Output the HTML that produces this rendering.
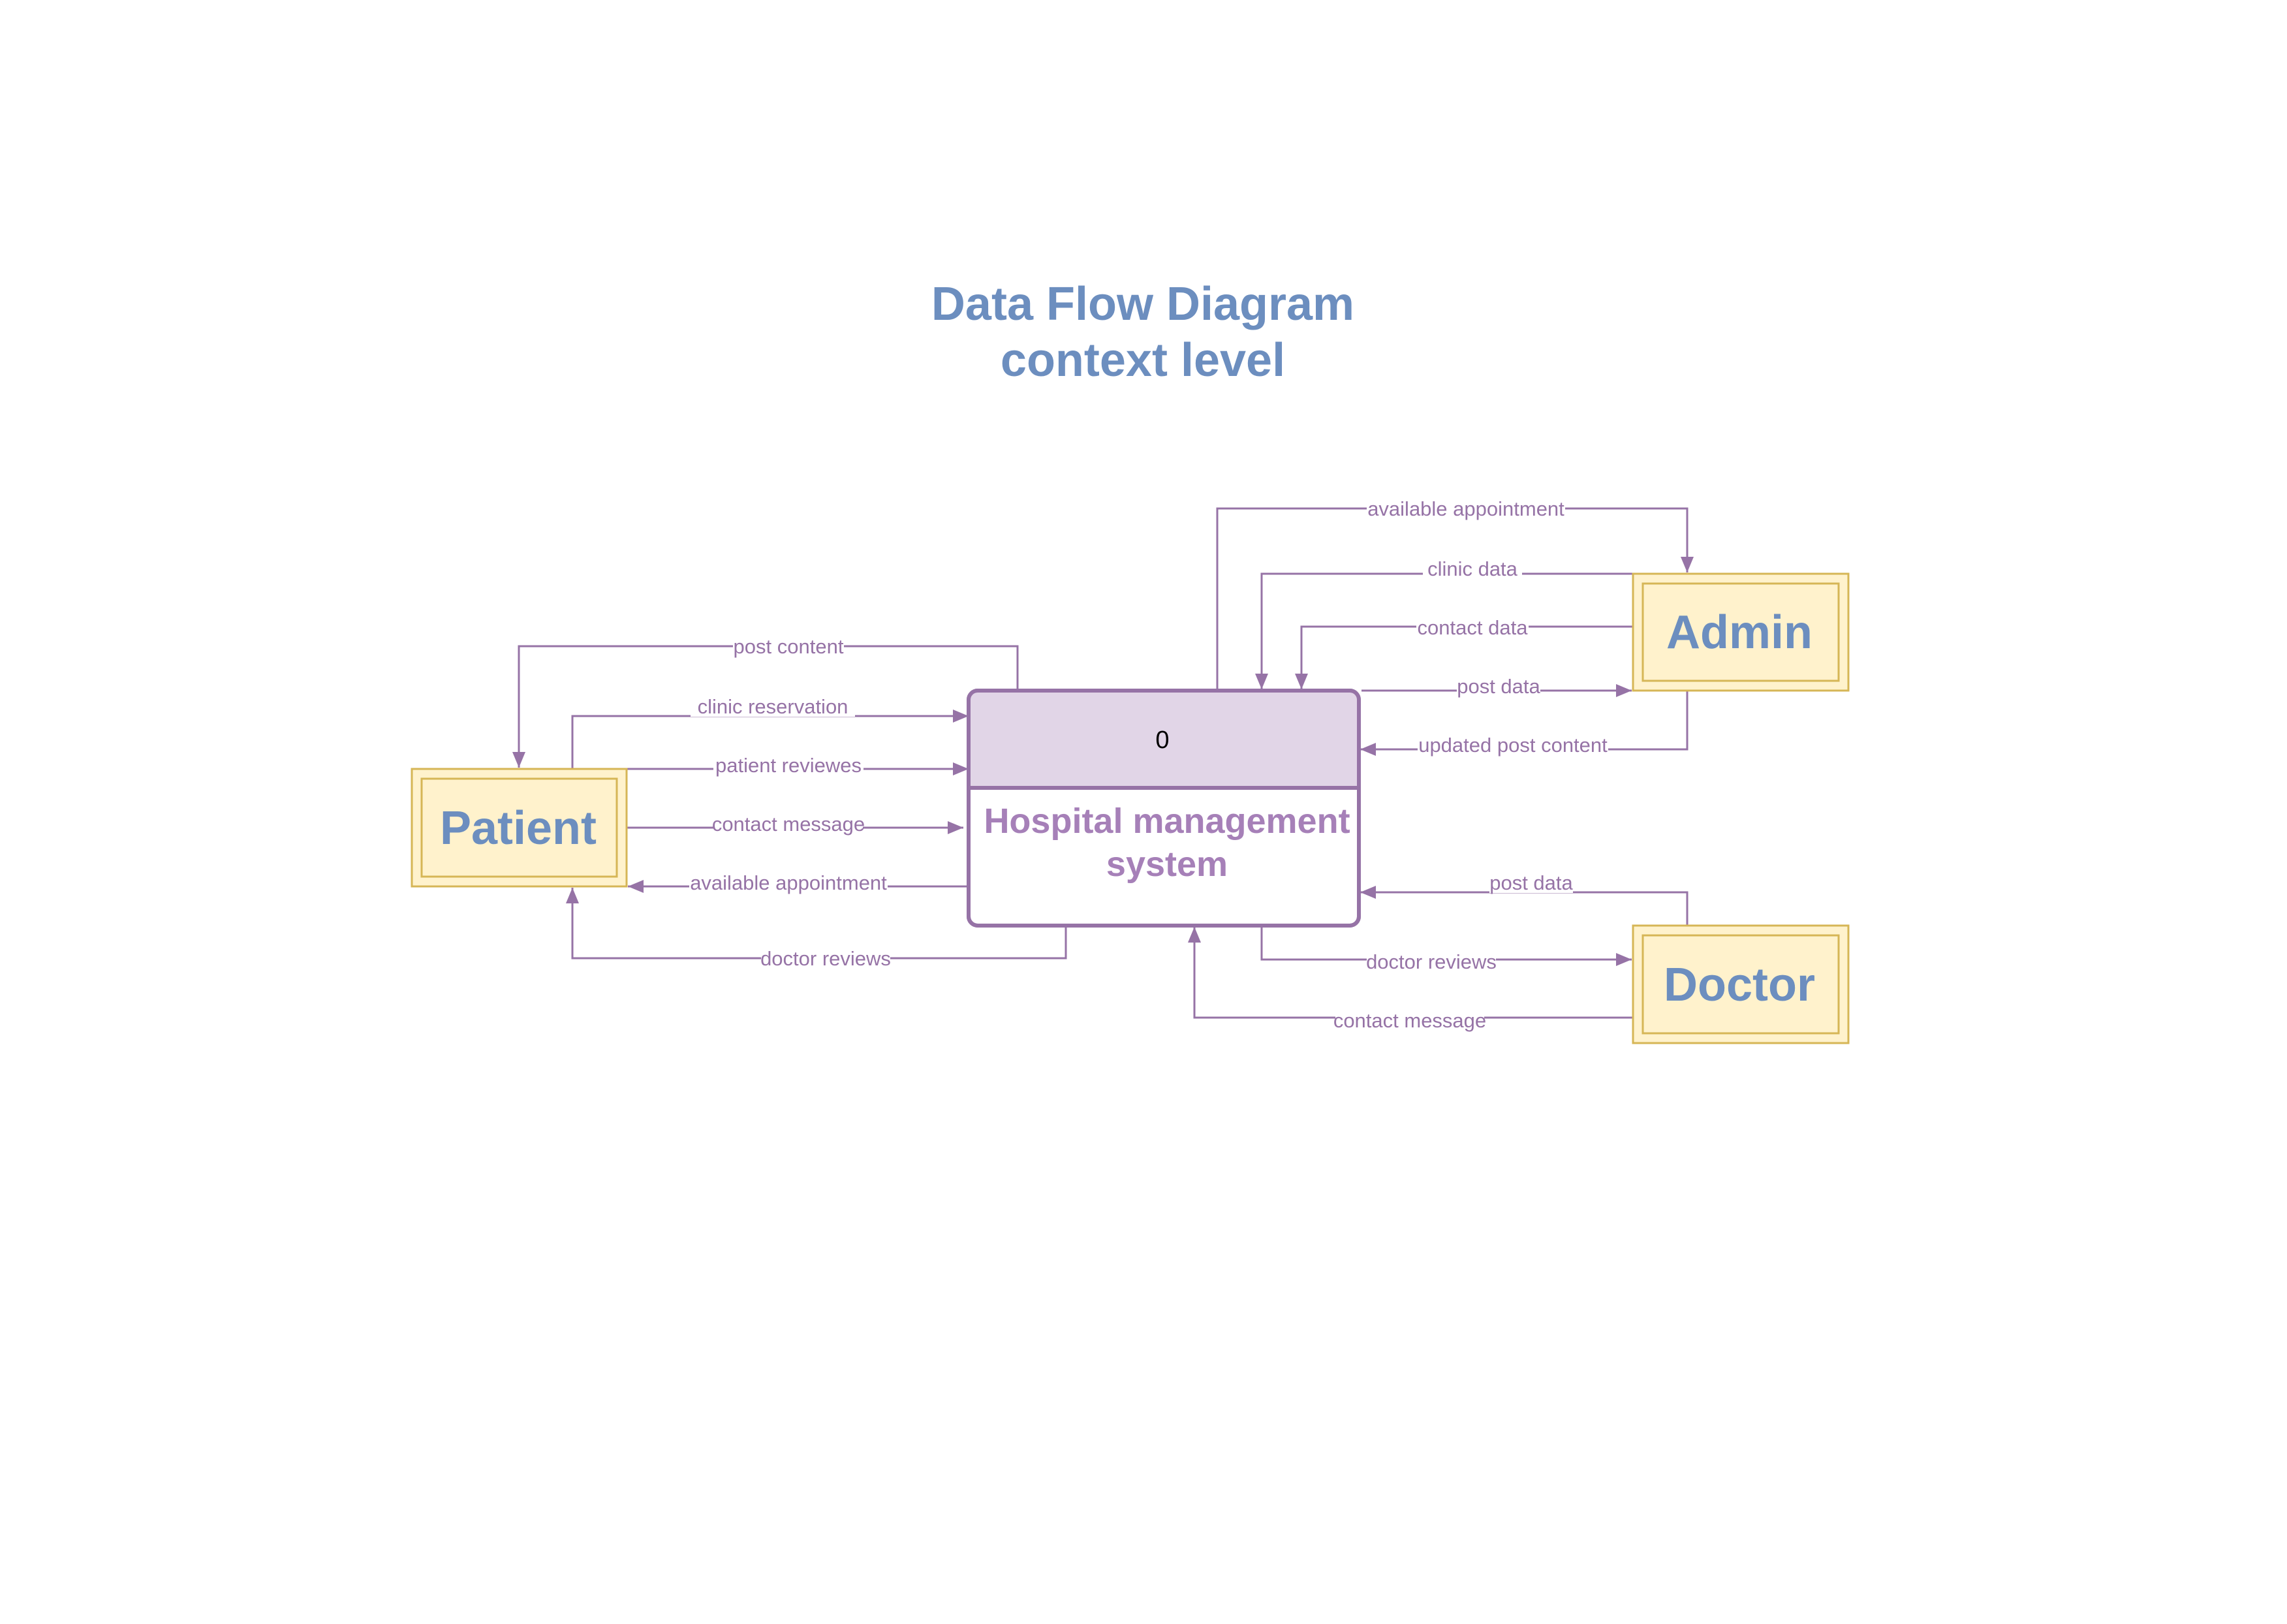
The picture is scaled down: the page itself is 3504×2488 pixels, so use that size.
<!DOCTYPE html>
<html><head><meta charset="utf-8"><style>html,body{margin:0;padding:0;background:#fff}svg{display:block}</style></head>
<body>
<svg width="3504" height="2488" viewBox="0 0 3504 2488" xmlns="http://www.w3.org/2000/svg" font-family="Liberation Sans, Arial, sans-serif">
<defs>
<marker id="a" viewBox="0 0 24 20" refX="24" refY="10" markerWidth="24" markerHeight="20" markerUnits="userSpaceOnUse" orient="auto">
<path d="M0,0 L24,10 L0,20 z" fill="#9673a6"/>
</marker>
</defs>
<rect width="3504" height="2488" fill="#fff"/>
<text x="1751" y="490" font-size="72" font-weight="bold" fill="#6c8ebf" text-anchor="middle">Data Flow Diagram</text>
<text x="1751" y="576" font-size="72" font-weight="bold" fill="#6c8ebf" text-anchor="middle">context level</text>

<g fill="none" stroke="#9673a6" stroke-width="3">
<polyline points="1559,1060 1559,990 795,990 795,1176" marker-end="url(#a)"/>
<polyline points="877,1178 877,1097 1484,1097" marker-end="url(#a)"/>
<polyline points="960,1178 1484,1178" marker-end="url(#a)"/>
<polyline points="960,1268 1476,1268" marker-end="url(#a)"/>
<polyline points="1484,1358 962,1358" marker-end="url(#a)"/>
<polyline points="1633,1420 1633,1468 877,1468 877,1360" marker-end="url(#a)"/>
<polyline points="1865,1058 1865,779 2585,779 2585,877" marker-end="url(#a)"/>
<polyline points="2502,879 1933,879 1933,1056" marker-end="url(#a)"/>
<polyline points="2502,960 1994,960 1994,1056" marker-end="url(#a)"/>
<polyline points="2086,1058 2500,1058" marker-end="url(#a)"/>
<polyline points="2585,1058 2585,1148 2084,1148" marker-end="url(#a)"/>
<polyline points="2585,1418 2585,1367 2084,1367" marker-end="url(#a)"/>
<polyline points="1933,1418 1933,1470 2500,1470" marker-end="url(#a)"/>
<polyline points="2502,1559 1830,1559 1830,1420" marker-end="url(#a)"/>
</g>

<rect x="1484" y="1058" width="598" height="360" rx="14" fill="#fff" stroke="#9673a6" stroke-width="6"/>
<path d="M1487,1207 L1487,1072 Q1487,1061 1498,1061 L2068,1061 Q2079,1061 2079,1072 L2079,1207 Z" fill="#e1d5e7"/>
<rect x="1484" y="1058" width="598" height="360" rx="14" fill="none" stroke="#9673a6" stroke-width="6"/>
<line x1="1484" y1="1207" x2="2082" y2="1207" stroke="#9673a6" stroke-width="6"/>
<text x="1781" y="1146" font-size="38" fill="#000" text-anchor="middle">0</text>
<text x="1788" y="1276" font-size="54" font-weight="bold" fill="#a680b8" text-anchor="middle">Hospital management</text>
<text x="1788" y="1342" font-size="54" font-weight="bold" fill="#a680b8" text-anchor="middle">system</text>

<g fill="#fff2cc" stroke="#d6b656" stroke-width="3">
<rect x="631" y="1178" width="329" height="180"/>
<rect x="646" y="1193" width="299" height="150"/>
<rect x="2502" y="879" width="330" height="179"/>
<rect x="2517" y="894" width="300" height="149"/>
<rect x="2502" y="1418" width="330" height="180"/>
<rect x="2517" y="1433" width="300" height="150"/>
</g>
<g font-size="72" font-weight="bold" fill="#6c8ebf" text-anchor="middle">
<text x="794" y="1293">Patient</text>
<text x="2665" y="993">Admin</text>
<text x="2665" y="1533">Doctor</text>
</g>

<g fill="#fff">
<rect x="1123" y="974" width="170" height="32"/>
<rect x="1058" y="1066" width="252" height="32"/>
<rect x="1093" y="1156" width="230" height="32"/>
<rect x="1094" y="1246" width="228" height="32"/>
<rect x="1056" y="1336" width="304" height="32"/>
<rect x="1166" y="1452" width="198" height="32"/>
<rect x="2094" y="763" width="304" height="32"/>
<rect x="2180" y="855" width="152" height="32"/>
<rect x="2170" y="945" width="172" height="32"/>
<rect x="2232" y="1035" width="128" height="32"/>
<rect x="2172" y="1125" width="292" height="32"/>
<rect x="2282" y="1336" width="128" height="32"/>
<rect x="2094" y="1457" width="198" height="32"/>
<rect x="2046" y="1547" width="228" height="32"/>
</g>
<g font-size="31" fill="#9673a6" text-anchor="middle">
<text x="1208" y="1001">post content</text>
<text x="1184" y="1093">clinic reservation</text>
<text x="1208" y="1183">patient reviewes</text>
<text x="1208" y="1273">contact message</text>
<text x="1208" y="1363">available appointment</text>
<text x="1265" y="1479">doctor reviews</text>
<text x="2246" y="790">available appointment</text>
<text x="2256" y="882">clinic data</text>
<text x="2256" y="972">contact data</text>
<text x="2296" y="1062">post data</text>
<text x="2318" y="1152">updated post content</text>
<text x="2346" y="1363">post data</text>
<text x="2193" y="1484">doctor reviews</text>
<text x="2160" y="1574">contact message</text>
</g>
</svg>
</body></html>
